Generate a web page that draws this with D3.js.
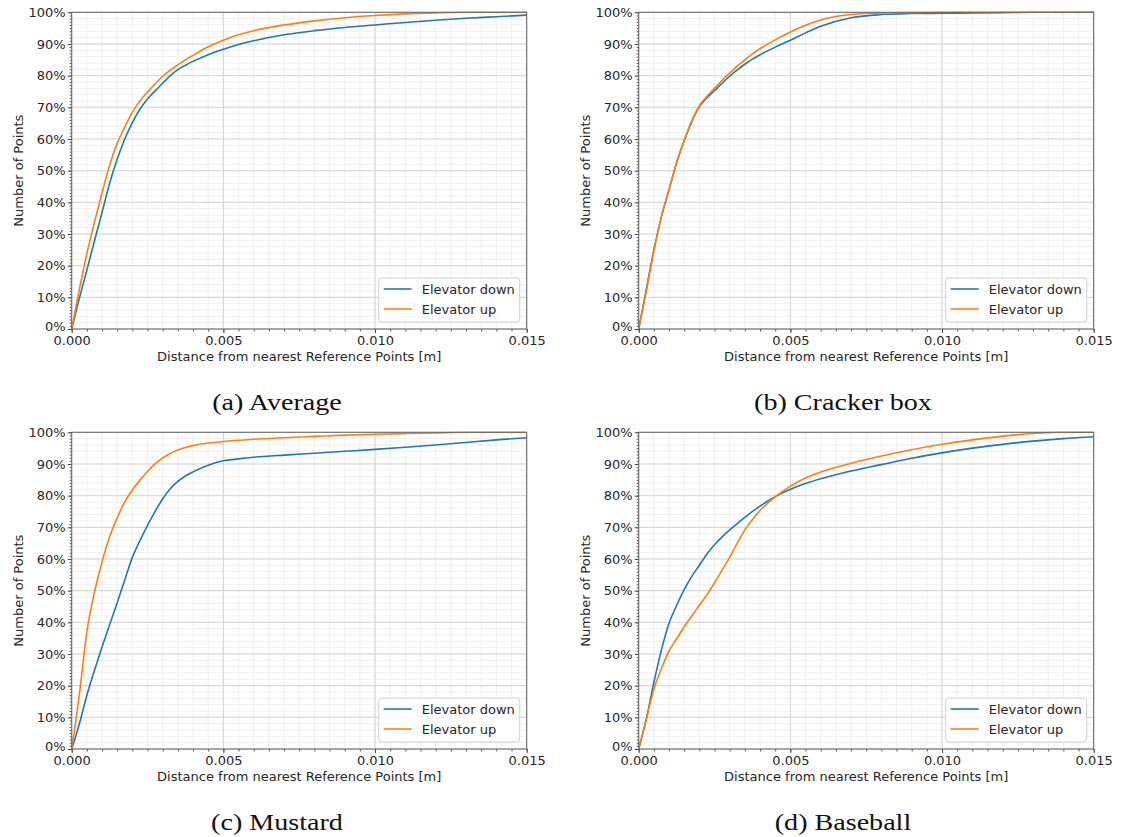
<!DOCTYPE html>
<html>
<head>
<meta charset="utf-8">
<script src="https://cdn.jsdelivr.net/npm/d3@7"></script>
<style>
  body { margin: 0; background: #fff; }
  svg { display: block; }
</style>
</head>
<body>
<svg id="fig" width="1122" height="837"></svg>
<script>
// Distances (m) at which the cumulative share of points was sampled
const distances = [0, 0.00025, 0.0005, 0.00075, 0.001, 0.00125, 0.0015, 0.00175, 0.002, 0.00225,
                   0.0025, 0.00275, 0.003, 0.00325, 0.0035, 0.00375, 0.004, 0.0045, 0.005, 0.0055,
                   0.006, 0.007, 0.008, 0.009, 0.010, 0.011, 0.012, 0.013, 0.014, 0.015];

const seriesNames = ["Elevator down", "Elevator up"];
const xTickValues = [0, 0.005, 0.010, 0.015];
const yTickValues = [0, 10, 20, 30, 40, 50, 60, 70, 80, 90, 100];
const captions = ["(a) Average", "(b) Cracker box", "(c) Mustard", "(d) Baseball"];

// Cumulative share of points (%) within each distance
const averageDown  = [0, 9.6, 18.6, 27.8, 36.8, 46.0, 53.6, 60.0, 65.2, 69.4, 72.6, 75.2, 77.6, 80.0, 81.9,
                      83.3, 84.5, 86.6, 88.3, 89.8, 91.0, 92.9, 94.2, 95.2, 96.0, 96.8, 97.5, 98.1, 98.6, 99.1];
const averageUp    = [0, 12.4, 23.8, 33.7, 43.0, 51.7, 58.6, 63.8, 68.5, 72.0, 74.8, 77.4, 79.8, 81.7, 83.4,
                      85.0, 86.4, 89.1, 91.2, 92.9, 94.2, 96.0, 97.3, 98.3, 99.0, 99.5, 99.8, 100, 100, 100];
const crackerDown  = [0, 12.5, 25.0, 35.5, 44.0, 52.5, 59.5, 65.5, 70.2, 73.0, 75.3, 77.6, 79.8, 81.8, 83.6,
                      85.2, 86.6, 89.0, 91.2, 93.5, 95.6, 98.3, 99.3, 99.6, 99.7, 99.8, 99.9, 100, 100, 100];
const crackerUp    = [0, 11.8, 24.5, 35.5, 44.0, 52.5, 59.5, 65.7, 70.5, 73.5, 76.0, 78.5, 80.8, 83.0, 85.0,
                      86.9, 88.5, 91.3, 93.8, 95.9, 97.6, 99.3, 99.8, 99.9, 100, 100, 100, 100, 100, 100];
const mustardDown  = [0, 7.8, 17.0, 24.8, 32.2, 39.2, 46.2, 53.4, 60.5, 65.8, 70.6, 75.0, 79.0, 82.2, 84.5,
                      86.2, 87.5, 89.6, 91.0, 91.6, 92.1, 92.8, 93.4, 94.0, 94.6, 95.3, 96.0, 96.8, 97.6, 98.3];
const mustardUp    = [0, 17.0, 37.0, 49.5, 59.0, 67.0, 73.0, 78.0, 81.8, 84.9, 87.6, 90.0, 91.9, 93.3, 94.4,
                      95.2, 95.8, 96.6, 97.1, 97.5, 97.8, 98.3, 98.7, 99.1, 99.4, 99.6, 99.8, 100, 100, 100];
const baseballDown = [0, 9.5, 21.0, 31.3, 39.7, 45.3, 50.3, 54.5, 58.0, 61.6, 64.5, 67.0, 69.2, 71.2, 73.1,
                      75.0, 76.7, 79.7, 82.0, 83.8, 85.3, 87.8, 89.8, 91.8, 93.5, 95.0, 96.2, 97.2, 98.0, 98.6];
const baseballUp   = [0, 9.3, 18.9, 25.4, 31.0, 34.8, 38.6, 42.0, 45.4, 48.7, 52.5, 56.5, 60.5, 65.0, 69.2,
                      72.5, 75.3, 79.6, 83.0, 85.6, 87.5, 90.2, 92.5, 94.5, 96.2, 97.6, 98.8, 99.6, 100, 100];

const panelSeries = [
  [averageDown, averageUp],
  [crackerDown, crackerUp],
  [mustardDown, mustardUp],
  [baseballDown, baseballUp]
];

const colors = ["#1f77b4", "#ff7f0e"];
const textColor = "#262626";
const font = "DejaVu Sans, sans-serif";

// Layout of the 2x2 grid of subplots
const plotW = 455, plotH = 316.7;
const origins = [
  {x: 71.7,  y: 12.3},
  {x: 638.7, y: 12.3},
  {x: 71.7,  y: 432.3},
  {x: 638.7, y: 432.3}
];
const captionPos = [
  {x: 277, y: 410},
  {x: 843, y: 410},
  {x: 277, y: 830},
  {x: 843, y: 830}
];

const svg = d3.select("#fig");

panelSeries.forEach((series, i) => {
  const o = origins[i];
  const g = svg.append("g").attr("transform", `translate(${o.x},${o.y})`);

  const x = d3.scaleLinear().domain([0, 0.015]).range([0, plotW]);
  const y = d3.scaleLinear().domain([0, 100]).range([plotH, 0]);

  // minor grid
  const xMinor = d3.range(0, 0.0150001, 0.0005);
  const yMinor = d3.range(0, 100.1, 2);
  g.append("g").selectAll("line").data(xMinor).join("line")
    .attr("x1", d => x(d)).attr("x2", d => x(d))
    .attr("y1", 0).attr("y2", plotH)
    .attr("stroke", "#ebebeb").attr("stroke-width", 0.8);
  g.append("g").selectAll("line").data(yMinor).join("line")
    .attr("x1", 0).attr("x2", plotW)
    .attr("y1", d => y(d)).attr("y2", d => y(d))
    .attr("stroke", "#ebebeb").attr("stroke-width", 0.8);

  // major grid
  g.append("g").selectAll("line").data(xTickValues).join("line")
    .attr("x1", d => x(d)).attr("x2", d => x(d))
    .attr("y1", 0).attr("y2", plotH)
    .attr("stroke", "#d4d4d4").attr("stroke-width", 1);
  g.append("g").selectAll("line").data(yTickValues).join("line")
    .attr("x1", 0).attr("x2", plotW)
    .attr("y1", d => y(d)).attr("y2", d => y(d))
    .attr("stroke", "#d4d4d4").attr("stroke-width", 1);

  // curves
  const clipId = "clip" + i;
  g.append("clipPath").attr("id", clipId)
    .append("rect").attr("x", 0).attr("y", -1).attr("width", plotW + 1).attr("height", plotH + 1);

  const line = d3.line()
    .x((d, k) => x(distances[k]))
    .y(d => y(d))
    .curve(d3.curveMonotoneX);

  series.forEach((vals, s) => {
    g.append("path")
      .attr("clip-path", `url(#${clipId})`)
      .attr("d", line(vals))
      .attr("fill", "none")
      .attr("stroke", colors[s])
      .attr("stroke-width", 1.6)
      .attr("stroke-linejoin", "round");
  });

  // axes: minor ticks
  g.append("g").attr("transform", `translate(0,${plotH})`)
    .call(d3.axisBottom(x).tickValues(xMinor).tickSize(2.5).tickFormat(""))
    .call(a => a.select(".domain").remove())
    .call(a => a.selectAll("line").attr("stroke", "#555"));
  g.append("g")
    .call(d3.axisLeft(y).tickValues(d3.range(0, 100.1, 1)).tickSize(2).tickFormat(""))
    .call(a => a.select(".domain").remove())
    .call(a => a.selectAll("line").attr("stroke", "#555"));

  // axes: major ticks and labels
  const xAxis = g.append("g").attr("transform", `translate(0,${plotH})`)
    .call(d3.axisBottom(x).tickValues(xTickValues).tickSize(4).tickPadding(3).tickFormat(d3.format(".3f")));
  xAxis.select(".domain").remove();
  xAxis.selectAll("line").attr("stroke", "#444");
  xAxis.selectAll("text").attr("font-family", font).attr("font-size", 13).attr("fill", textColor);

  const yAxis = g.append("g")
    .call(d3.axisLeft(y).tickValues(yTickValues).tickSize(4).tickPadding(2).tickFormat(d => d + "%"));
  yAxis.select(".domain").remove();
  yAxis.selectAll("line").attr("stroke", "#444");
  yAxis.selectAll("text").attr("font-family", font).attr("font-size", 13).attr("fill", textColor);
  // the bottom label sits just above the x tick labels in the corner
  yAxis.selectAll("text").filter(d => d === 0).attr("dy", "0.1em");

  // frame
  g.append("rect").attr("x", 0).attr("y", 0).attr("width", plotW).attr("height", plotH)
    .attr("fill", "none").attr("stroke", "#666").attr("stroke-width", 1);

  // axis titles
  g.append("text")
    .attr("x", plotW / 2).attr("y", plotH + 32)
    .attr("text-anchor", "middle")
    .attr("font-family", font).attr("font-size", 13).attr("fill", textColor)
    .text("Distance from nearest Reference Points [m]");
  g.append("text")
    .attr("transform", `translate(${-49},${plotH / 2}) rotate(-90)`)
    .attr("text-anchor", "middle")
    .attr("font-family", font).attr("font-size", 13).attr("fill", textColor)
    .text("Number of Points");

  // legend
  const lg = g.append("g").attr("transform", `translate(${plotW - 148},${plotH - 51})`);
  lg.append("rect").attr("x", 0).attr("y", 0).attr("width", 141).attr("height", 44)
    .attr("rx", 3).attr("fill", "#fff").attr("fill-opacity", 0.85)
    .attr("stroke", "#d0d0d0").attr("stroke-width", 1);
  seriesNames.forEach((name, s) => {
    const ly = 11 + s * 20;
    lg.append("line").attr("x1", 5).attr("x2", 33).attr("y1", ly).attr("y2", ly)
      .attr("stroke", colors[s]).attr("stroke-width", 1.6);
    lg.append("text").attr("x", 43).attr("y", ly).attr("dy", "0.35em")
      .attr("font-family", font).attr("font-size", 13).attr("fill", textColor)
      .text(name);
  });

  // subfigure caption, widened a little to the proportions of a Computer Modern face
  const cap = svg.append("text")
    .attr("x", captionPos[i].x).attr("y", captionPos[i].y)
    .attr("text-anchor", "middle")
    .attr("font-family", "Liberation Serif, serif").attr("font-size", 24).attr("fill", "#111")
    .text(captions[i]);
  const len = cap.node().getComputedTextLength();
  cap.attr("textLength", len * 1.17).attr("lengthAdjust", "spacingAndGlyphs");
});
</script>
</body>
</html>
